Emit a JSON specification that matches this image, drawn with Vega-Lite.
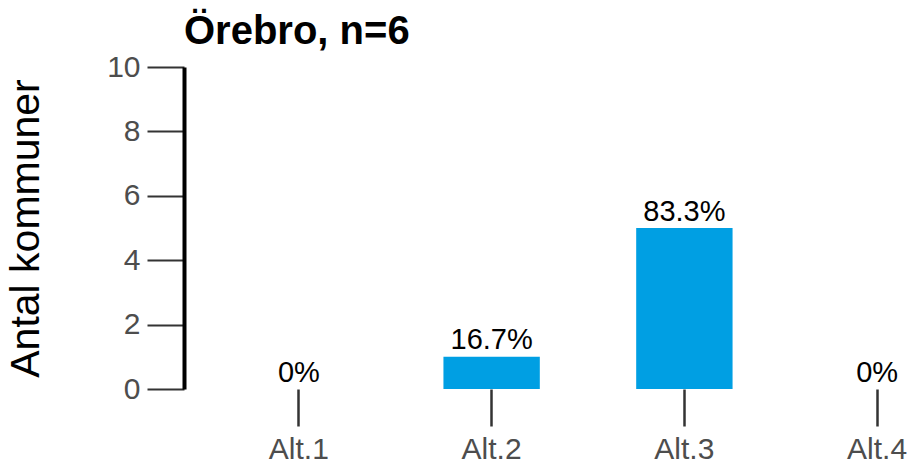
{
  "$schema": "https://vega.github.io/schema/vega-lite/v6.json",
  "autosize": {"type": "none"},
  "padding": {"left": 184, "top": 67, "right": 0, "bottom": 74},
  "width": 728,
  "height": 322,
  "background": "white",
  "config": {
    "view": {"stroke": null},
    "font": "Liberation Sans"
  },
  "title": {
    "text": "Örebro, n=6",
    "anchor": "start",
    "frame": "group",
    "fontSize": 40,
    "fontWeight": "bold",
    "color": "black",
    "font": "Liberation Sans",
    "offset": 0
  },
  "data": {
    "values": [
      {"alt": "Alt.1", "antal": 0, "label": "0%"},
      {"alt": "Alt.2", "antal": 1, "label": "16.7%"},
      {"alt": "Alt.3", "antal": 5, "label": "83.3%"},
      {"alt": "Alt.4", "antal": 0, "label": "0%"}
    ]
  },
  "encoding": {
    "x": {
      "field": "alt",
      "type": "nominal",
      "sort": null,
      "scale": {"range": [18.5, 789.5], "paddingInner": 0.5, "paddingOuter": 0.25},
      "axis": {
        "title": null,
        "domain": false,
        "tickSize": 37,
        "tickWidth": 2.5,
        "tickColor": "#333333",
        "labelFontSize": 30,
        "labelColor": "#4d4d4d",
        "labelPadding": 8,
        "labelAngle": 0,
        "labelFont": "Liberation Sans"
      }
    },
    "y": {
      "field": "antal",
      "type": "quantitative",
      "scale": {"domain": [0, 10], "nice": false},
      "axis": {
        "title": "Antal kommuner",
        "titleFontSize": 41,
        "titleFontWeight": "normal",
        "titleColor": "black",
        "titleFont": "Liberation Sans",
        "titlePadding": 59,
        "values": [0, 2, 4, 6, 8, 10],
        "grid": false,
        "domain": true,
        "domainColor": "black",
        "domainWidth": 4,
        "tickSize": 37,
        "tickWidth": 2,
        "tickColor": "#333333",
        "labelFontSize": 30,
        "labelColor": "#4d4d4d",
        "labelPadding": 7,
        "labelFont": "Liberation Sans"
      }
    }
  },
  "layer": [
    {
      "mark": {"type": "bar", "color": "#009FE3"}
    },
    {
      "mark": {"type": "text", "baseline": "alphabetic", "dy": -7.5, "fontSize": 29, "color": "black", "font": "Liberation Sans"},
      "encoding": {"text": {"field": "label"}}
    }
  ]
}
